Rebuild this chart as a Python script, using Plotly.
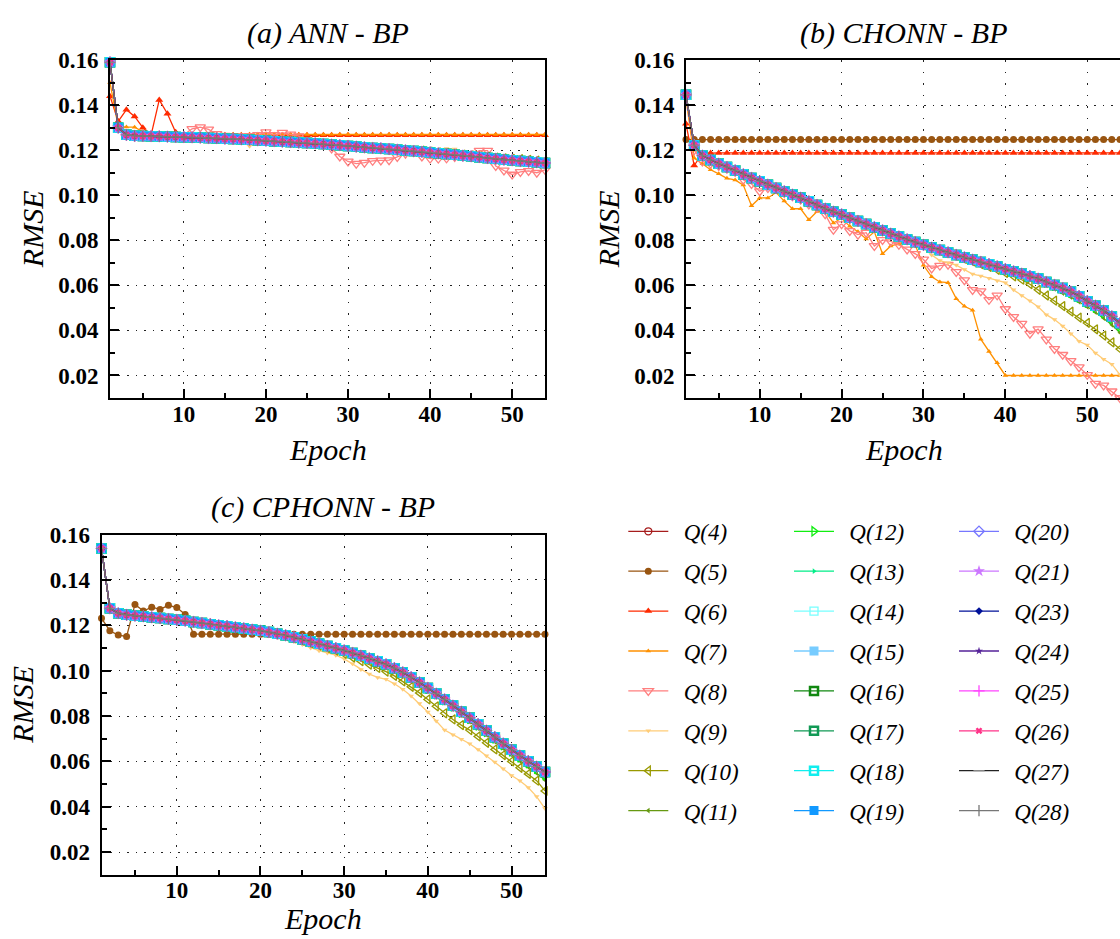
import plotly.graph_objects as go

W, H = 1120, 939
FONT = "Liberation Serif"

EPOCHS = list(range(1, 55))
SERIES = ["Q(4)", "Q(5)", "Q(6)", "Q(7)", "Q(8)", "Q(9)", "Q(10)", "Q(11)",
          "Q(12)", "Q(13)", "Q(14)", "Q(15)", "Q(16)", "Q(17)", "Q(18)", "Q(19)",
          "Q(20)", "Q(21)", "Q(23)", "Q(24)", "Q(25)", "Q(26)", "Q(27)", "Q(28)"]

# ---------------- (a) ANN - BP ----------------
A_MAIN = [0.1590, 0.1300, 0.1268, 0.1264, 0.1263, 0.1262, 0.1261, 0.1260, 0.1259, 0.1258,
          0.1257, 0.1256, 0.1254, 0.1253, 0.1251, 0.1250, 0.1248, 0.1246, 0.1244, 0.1242,
          0.1240, 0.1238, 0.1236, 0.1234, 0.1232, 0.1230, 0.1227, 0.1225, 0.1222, 0.1219,
          0.1216, 0.1213, 0.1210, 0.1208, 0.1205, 0.1202, 0.1199, 0.1196, 0.1193, 0.1190,
          0.1186, 0.1183, 0.1180, 0.1176, 0.1173, 0.1169, 0.1165, 0.1162, 0.1158, 0.1155,
          0.1152, 0.1149, 0.1146, 0.1143]
A_Q6 = [0.1440, 0.1328, 0.1380, 0.1350, 0.1300, 0.1266, 0.1423, 0.1362, 0.1280, 0.1266,
        0.1266, 0.1266, 0.1266, 0.1266, 0.1266, 0.1266, 0.1266, 0.1266, 0.1266, 0.1266,
        0.1266, 0.1266, 0.1266, 0.1266, 0.1266, 0.1266, 0.1266, 0.1266, 0.1266, 0.1266,
        0.1266, 0.1266, 0.1266, 0.1266, 0.1266, 0.1266, 0.1266, 0.1266, 0.1266, 0.1266,
        0.1266, 0.1266, 0.1266, 0.1266, 0.1266, 0.1266, 0.1266, 0.1266, 0.1266, 0.1266,
        0.1266, 0.1266, 0.1266, 0.1266]
A_Q7 = [0.1500, 0.1305, 0.1303, 0.1302, 0.1282, 0.1270, 0.1270, 0.1270, 0.1270, 0.1270,
        0.1270, 0.1270, 0.1270, 0.1270, 0.1270, 0.1270, 0.1270, 0.1270, 0.1270, 0.1270,
        0.1270, 0.1270, 0.1270, 0.1270, 0.1270, 0.1270, 0.1270, 0.1270, 0.1270, 0.1270,
        0.1270, 0.1270, 0.1270, 0.1270, 0.1270, 0.1270, 0.1270, 0.1270, 0.1270, 0.1270,
        0.1270, 0.1270, 0.1270, 0.1270, 0.1270, 0.1270, 0.1270, 0.1270, 0.1270, 0.1270,
        0.1270, 0.1270, 0.1270, 0.1270]
A_Q8 = [0.1590, 0.1300, 0.1265, 0.1260, 0.1262, 0.1262, 0.1261, 0.1260, 0.1262, 0.1268,
        0.1295, 0.1302, 0.1292, 0.1272, 0.1265, 0.1262, 0.1262, 0.1263, 0.1268, 0.1280,
        0.1268, 0.1278, 0.1270, 0.1262, 0.1245, 0.1238, 0.1232, 0.1208, 0.1172, 0.1150,
        0.1140, 0.1145, 0.1153, 0.1155, 0.1156, 0.1170, 0.1185, 0.1192, 0.1172, 0.1163,
        0.1163, 0.1164, 0.1170, 0.1172, 0.1178, 0.1198, 0.1198, 0.1130, 0.1110, 0.1092,
        0.1104, 0.1108, 0.1100, 0.1113]
A_Q9 = [0.1590, 0.1305, 0.1258, 0.1250, 0.1262, 0.1262, 0.1261, 0.1260, 0.1259, 0.1258,
        0.1257, 0.1245, 0.1254, 0.1253, 0.1251, 0.1250, 0.1246, 0.1218, 0.1236, 0.1242,
        0.1240, 0.1238, 0.1236, 0.1234, 0.1232, 0.1230, 0.1227, 0.1225, 0.1222, 0.1210,
        0.1200, 0.1195, 0.1202, 0.1208, 0.1205, 0.1202, 0.1199, 0.1196, 0.1193, 0.1190,
        0.1203, 0.1207, 0.1205, 0.1176, 0.1173, 0.1169, 0.1165, 0.1162, 0.1158, 0.1155,
        0.1148, 0.1140, 0.1145, 0.1143]
A_Q10 = [0.1590, 0.1300, 0.1268, 0.1264, 0.1263, 0.1262, 0.1261, 0.1260, 0.1259, 0.1258,
         0.1257, 0.1256, 0.1254, 0.1253, 0.1251, 0.1250, 0.1248, 0.1246, 0.1244, 0.1242,
         0.1240, 0.1238, 0.1236, 0.1234, 0.1232, 0.1230, 0.1227, 0.1225, 0.1222, 0.1219,
         0.1216, 0.1213, 0.1210, 0.1208, 0.1205, 0.1202, 0.1199, 0.1196, 0.1198, 0.1194,
         0.1190, 0.1187, 0.1184, 0.1180, 0.1177, 0.1173, 0.1170, 0.1167, 0.1164, 0.1161,
         0.1160, 0.1157, 0.1154, 0.1148]

# ---------------- (b) CHONN - BP ----------------
B_MAIN = [0.1446, 0.1222, 0.1176, 0.1157, 0.1140, 0.1125, 0.1110, 0.1093, 0.1077, 0.1062,
          0.1047, 0.1032, 0.1017, 0.1003, 0.0989, 0.0973, 0.0957, 0.0941, 0.0927, 0.0915,
          0.0900, 0.0886, 0.0872, 0.0858, 0.0844, 0.0830, 0.0817, 0.0804, 0.0792, 0.0780,
          0.0768, 0.0757, 0.0746, 0.0735, 0.0724, 0.0714, 0.0704, 0.0694, 0.0684, 0.0672,
          0.0662, 0.0652, 0.0641, 0.0630, 0.0615, 0.0602, 0.0588, 0.0572, 0.0552, 0.0530,
          0.0510, 0.0488, 0.0462, 0.0432]
B_Q5 = [0.1247, 0.1247, 0.1247, 0.1247, 0.1247, 0.1247, 0.1247, 0.1247, 0.1247, 0.1247,
        0.1247, 0.1247, 0.1247, 0.1247, 0.1247, 0.1247, 0.1247, 0.1247, 0.1247, 0.1247,
        0.1247, 0.1247, 0.1247, 0.1247, 0.1247, 0.1247, 0.1247, 0.1247, 0.1247, 0.1247,
        0.1247, 0.1247, 0.1247, 0.1247, 0.1247, 0.1247, 0.1247, 0.1247, 0.1247, 0.1247,
        0.1247, 0.1247, 0.1247, 0.1247, 0.1247, 0.1247, 0.1247, 0.1247, 0.1247, 0.1247,
        0.1247, 0.1247, 0.1247, 0.1247]
B_Q6 = [0.1317, 0.1132, 0.1186, 0.1188, 0.1188, 0.1188, 0.1188, 0.1188, 0.1188, 0.1188,
        0.1188, 0.1188, 0.1188, 0.1188, 0.1188, 0.1188, 0.1188, 0.1188, 0.1188, 0.1188,
        0.1188, 0.1188, 0.1188, 0.1188, 0.1188, 0.1188, 0.1188, 0.1188, 0.1188, 0.1188,
        0.1188, 0.1188, 0.1188, 0.1188, 0.1188, 0.1188, 0.1188, 0.1188, 0.1188, 0.1188,
        0.1188, 0.1188, 0.1188, 0.1188, 0.1188, 0.1188, 0.1188, 0.1188, 0.1188, 0.1188,
        0.1188, 0.1188, 0.1188, 0.1188]
B_Q7 = [0.1430, 0.1165, 0.1140, 0.1113, 0.1095, 0.1075, 0.1068, 0.1045, 0.0953, 0.0988,
        0.0988, 0.1012, 0.0974, 0.0940, 0.0940, 0.0891, 0.0928, 0.0928, 0.0877, 0.0898,
        0.0862, 0.0838, 0.0806, 0.0838, 0.0740, 0.0775, 0.0784, 0.0786, 0.0778, 0.0689,
        0.0638, 0.0615, 0.0612, 0.0541, 0.0507, 0.0490, 0.0361, 0.0306, 0.0256, 0.0200,
        0.0200, 0.0200, 0.0200, 0.0200, 0.0200, 0.0200, 0.0200, 0.0200, 0.0200, 0.0200,
        0.0200, 0.0200, 0.0200, 0.0200]
B_Q8 = [0.1440, 0.1200, 0.1150, 0.1140, 0.1130, 0.1118, 0.1105, 0.1069, 0.1050, 0.1018,
        0.1032, 0.1036, 0.1010, 0.0996, 0.0981, 0.0959, 0.0945, 0.0916, 0.0847, 0.0872,
        0.0842, 0.0825, 0.0834, 0.0775, 0.0802, 0.0795, 0.0780, 0.0760, 0.0740, 0.0715,
        0.0675, 0.0688, 0.0692, 0.0660, 0.0623, 0.0580, 0.0574, 0.0536, 0.0556, 0.0495,
        0.0460, 0.0430, 0.0386, 0.0406, 0.0360, 0.0318, 0.0292, 0.0265, 0.0237, 0.0203,
        0.0164, 0.0156, 0.0130, 0.0100]
B_Q9 = [0.1446, 0.1220, 0.1175, 0.1155, 0.1138, 0.1122, 0.1107, 0.1090, 0.1074, 0.1058,
        0.1042, 0.1027, 0.1012, 0.0997, 0.0980, 0.0962, 0.0947, 0.0930, 0.0912, 0.0898,
        0.0885, 0.0870, 0.0855, 0.0840, 0.0826, 0.0815, 0.0805, 0.0795, 0.0785, 0.0768,
        0.0735, 0.0710, 0.0700, 0.0690, 0.0670, 0.0650, 0.0642, 0.0632, 0.0620, 0.0612,
        0.0580, 0.0555, 0.0532, 0.0505, 0.0470, 0.0448, 0.0420, 0.0385, 0.0352, 0.0335,
        0.0300, 0.0272, 0.0250, 0.0203]
B_Q10 = [0.1446, 0.1222, 0.1176, 0.1157, 0.1140, 0.1125, 0.1110, 0.1093, 0.1077, 0.1062,
         0.1047, 0.1032, 0.1017, 0.1003, 0.0989, 0.0973, 0.0957, 0.0941, 0.0927, 0.0915,
         0.0900, 0.0886, 0.0872, 0.0858, 0.0844, 0.0830, 0.0817, 0.0804, 0.0790, 0.0777,
         0.0765, 0.0754, 0.0743, 0.0732, 0.0718, 0.0706, 0.0694, 0.0682, 0.0669, 0.0655,
         0.0640, 0.0625, 0.0605, 0.0580, 0.0555, 0.0532, 0.0508, 0.0483, 0.0457, 0.0433,
         0.0405, 0.0377, 0.0347, 0.0317]
B_Q11 = [0.1446, 0.1222, 0.1176, 0.1157, 0.1140, 0.1125, 0.1110, 0.1093, 0.1077, 0.1062,
         0.1047, 0.1032, 0.1017, 0.1003, 0.0989, 0.0973, 0.0957, 0.0941, 0.0927, 0.0915,
         0.0900, 0.0886, 0.0872, 0.0858, 0.0844, 0.0830, 0.0817, 0.0804, 0.0792, 0.0780,
         0.0768, 0.0757, 0.0746, 0.0735, 0.0724, 0.0714, 0.0704, 0.0694, 0.0680, 0.0667,
         0.0655, 0.0643, 0.0630, 0.0616, 0.0600, 0.0584, 0.0566, 0.0548, 0.0527, 0.0505,
         0.0481, 0.0455, 0.0425, 0.0390]
B_Q12 = [0.1446, 0.1222, 0.1176, 0.1157, 0.1140, 0.1125, 0.1110, 0.1093, 0.1077, 0.1062,
         0.1047, 0.1032, 0.1017, 0.1003, 0.0989, 0.0973, 0.0957, 0.0941, 0.0927, 0.0915,
         0.0900, 0.0886, 0.0872, 0.0858, 0.0844, 0.0830, 0.0817, 0.0804, 0.0792, 0.0780,
         0.0768, 0.0757, 0.0746, 0.0735, 0.0724, 0.0714, 0.0704, 0.0694, 0.0684, 0.0672,
         0.0662, 0.0652, 0.0641, 0.0630, 0.0612, 0.0598, 0.0583, 0.0566, 0.0545, 0.0522,
         0.0500, 0.0476, 0.0450, 0.0418]

# ---------------- (c) CPHONN - BP ----------------
C_MAIN = [0.1539, 0.1275, 0.1253, 0.1246, 0.1242, 0.1239, 0.1235, 0.1232, 0.1228, 0.1224,
          0.1220, 0.1215, 0.1210, 0.1205, 0.1200, 0.1196, 0.1191, 0.1186, 0.1181, 0.1176,
          0.1170, 0.1163, 0.1156, 0.1147, 0.1138, 0.1128, 0.1119, 0.1109, 0.1099, 0.1089,
          0.1078, 0.1066, 0.1054, 0.1041, 0.1028, 0.1011, 0.0992, 0.0971, 0.0948, 0.0924,
          0.0899, 0.0873, 0.0846, 0.0819, 0.0792, 0.0764, 0.0736, 0.0707, 0.0679, 0.0651,
          0.0626, 0.0601, 0.0577, 0.0553]
C_Q5 = [0.1231, 0.1176, 0.1157, 0.1151, 0.1292, 0.1263, 0.1280, 0.1270, 0.1288, 0.1278,
        0.1248, 0.1161, 0.1161, 0.1161, 0.1161, 0.1161, 0.1161, 0.1161, 0.1161, 0.1161,
        0.1161, 0.1161, 0.1161, 0.1161, 0.1161, 0.1161, 0.1161, 0.1161, 0.1161, 0.1161,
        0.1161, 0.1161, 0.1161, 0.1161, 0.1161, 0.1161, 0.1161, 0.1161, 0.1161, 0.1161,
        0.1161, 0.1161, 0.1161, 0.1161, 0.1161, 0.1161, 0.1161, 0.1161, 0.1161, 0.1161,
        0.1161, 0.1161, 0.1161, 0.1161]
C_Q9 = [0.1539, 0.1275, 0.1253, 0.1246, 0.1242, 0.1239, 0.1235, 0.1232, 0.1228, 0.1224,
        0.1220, 0.1215, 0.1210, 0.1205, 0.1200, 0.1196, 0.1191, 0.1186, 0.1181, 0.1176,
        0.1168, 0.1155, 0.1140, 0.1128, 0.1115, 0.1100, 0.1088, 0.1078, 0.1068, 0.1052,
        0.1030, 0.1005, 0.0985, 0.0970, 0.0962, 0.0942, 0.0918, 0.0888, 0.0855, 0.0818,
        0.0778, 0.0738, 0.0718, 0.0698, 0.0678, 0.0652, 0.0625, 0.0597, 0.0568, 0.0538,
        0.0515, 0.0485, 0.0445, 0.0392]
C_Q10 = [0.1539, 0.1275, 0.1253, 0.1246, 0.1242, 0.1239, 0.1235, 0.1232, 0.1228, 0.1224,
         0.1220, 0.1215, 0.1210, 0.1205, 0.1200, 0.1196, 0.1191, 0.1186, 0.1181, 0.1176,
         0.1169, 0.1160, 0.1152, 0.1142, 0.1132, 0.1121, 0.1110, 0.1099, 0.1088, 0.1074,
         0.1058, 0.1042, 0.1027, 0.1012, 0.0996, 0.0977, 0.0953, 0.0929, 0.0902, 0.0873,
         0.0843, 0.0812, 0.0785, 0.0760, 0.0738, 0.0710, 0.0682, 0.0653, 0.0628, 0.0600,
         0.0572, 0.0545, 0.0515, 0.0470]
C_Q11 = [0.1539, 0.1275, 0.1253, 0.1246, 0.1242, 0.1239, 0.1235, 0.1232, 0.1228, 0.1224,
         0.1220, 0.1215, 0.1210, 0.1205, 0.1200, 0.1196, 0.1191, 0.1186, 0.1181, 0.1176,
         0.1170, 0.1163, 0.1156, 0.1147, 0.1138, 0.1128, 0.1119, 0.1109, 0.1099, 0.1089,
         0.1076, 0.1063, 0.1050, 0.1036, 0.1022, 0.1004, 0.0984, 0.0962, 0.0938, 0.0912,
         0.0886, 0.0859, 0.0831, 0.0803, 0.0775, 0.0746, 0.0717, 0.0687, 0.0658, 0.0629,
         0.0602, 0.0575, 0.0548, 0.0518]
C_Q12 = [0.1539, 0.1275, 0.1253, 0.1246, 0.1242, 0.1239, 0.1235, 0.1232, 0.1228, 0.1224,
         0.1220, 0.1215, 0.1210, 0.1205, 0.1200, 0.1196, 0.1191, 0.1186, 0.1181, 0.1176,
         0.1170, 0.1163, 0.1156, 0.1147, 0.1138, 0.1128, 0.1119, 0.1109, 0.1099, 0.1089,
         0.1078, 0.1066, 0.1054, 0.1041, 0.1028, 0.1011, 0.0992, 0.0971, 0.0948, 0.0920,
         0.0895, 0.0869, 0.0842, 0.0814, 0.0786, 0.0758, 0.0729, 0.0700, 0.0671, 0.0643,
         0.0617, 0.0591, 0.0566, 0.0538]

# series -> (panel a, panel b, panel c)
DATA = {
    "Q(4)": (A_MAIN, B_MAIN, C_MAIN), "Q(5)": (A_MAIN, B_Q5, C_Q5),
    "Q(6)": (A_Q6, B_Q6, C_MAIN), "Q(7)": (A_Q7, B_Q7, C_MAIN),
    "Q(8)": (A_Q8, B_Q8, C_MAIN), "Q(9)": (A_Q9, B_Q9, C_Q9),
    "Q(10)": (A_Q10, B_Q10, C_Q10), "Q(11)": (A_MAIN, B_Q11, C_Q11),
    "Q(12)": (A_MAIN, B_Q12, C_Q12), "Q(13)": (A_MAIN, B_MAIN, C_MAIN),
    "Q(14)": (A_MAIN, B_MAIN, C_MAIN), "Q(15)": (A_MAIN, B_MAIN, C_MAIN),
    "Q(16)": (A_MAIN, B_MAIN, C_MAIN), "Q(17)": (A_MAIN, B_MAIN, C_MAIN),
    "Q(18)": (A_MAIN, B_MAIN, C_MAIN), "Q(19)": (A_MAIN, B_MAIN, C_MAIN),
    "Q(20)": (A_MAIN, B_MAIN, C_MAIN), "Q(21)": (A_MAIN, B_MAIN, C_MAIN),
    "Q(23)": (A_MAIN, B_MAIN, C_MAIN), "Q(24)": (A_MAIN, B_MAIN, C_MAIN),
    "Q(25)": (A_MAIN, B_MAIN, C_MAIN), "Q(26)": (A_MAIN, B_MAIN, C_MAIN),
    "Q(27)": (A_MAIN, B_MAIN, C_MAIN), "Q(28)": (A_MAIN, B_MAIN, C_MAIN),
}

# styles: line color, symbol, size, marker line width, marker color
STYLE = {
    "Q(4)": ("#A61C1C", "circle-open", 7, 1.3, "#A61C1C"),
    "Q(5)": ("#995511", "circle", 7, 0, "#995511"),
    "Q(6)": ("#FF2A00", "triangle-up", 7, 0, "#FF2A00"),
    "Q(7)": ("#FF9100", "triangle-up", 5, 0, "#FF9100"),
    "Q(8)": ("#FF7F7F", "triangle-down-open", 9, 1.3, "#FF7F7F"),
    "Q(9)": ("#FFCC77", "triangle-down", 5, 0, "#FFCC77"),
    "Q(10)": ("#999900", "triangle-left-open", 8, 1.3, "#999900"),
    "Q(11)": ("#669911", "triangle-left", 5, 0, "#669911"),
    "Q(12)": ("#11EE11", "triangle-right-open", 8, 1.3, "#11EE11"),
    "Q(13)": ("#00EE88", "triangle-right", 5, 0, "#00EE88"),
    "Q(14)": ("#77FFFF", "square-open", 8, 1.3, "#77FFFF"),
    "Q(15)": ("#77CCFF", "square", 9, 0, "#77CCFF"),
    "Q(16)": ("#118811", "square-open", 8, 2.5, "#118811"),
    "Q(17)": ("#119955", "square-open", 8, 2.5, "#119955"),
    "Q(18)": ("#11EEEE", "square-open", 8, 2.5, "#11EEEE"),
    "Q(19)": ("#1199FF", "square", 9, 0, "#1199FF"),
    "Q(20)": ("#7777FF", "diamond-open", 8, 1.3, "#7777FF"),
    "Q(21)": ("#CC77FF", "star", 9, 0, "#CC77FF"),
    "Q(23)": ("#001199", "diamond", 6, 0, "#001199"),
    "Q(24)": ("#552299", "star", 6, 0, "#552299"),
    "Q(25)": ("#FF44FF", "cross-thin", 8, 1.3, "#FF44FF"),
    "Q(26)": ("#FF3388", "x", 6, 0, "#FF3388"),
    "Q(27)": ("#222222", "line-ew", 8, 1.3, "#888888"),
    "Q(28)": ("#777777", "line-ns", 8, 1.3, "#777777"),
}

LEGEND_OF = {}
for i, s in enumerate(SERIES):
    LEGEND_OF[s] = ["legend", "legend2", "legend3"][i // 8]

fig = go.Figure()
AXES = [("x", "y"), ("x2", "y2"), ("x3", "y3")]
for s in SERIES:
    color, sym, size, mlw, mcol = STYLE[s]
    for p, (xa, ya) in enumerate(AXES):
        fig.add_trace(go.Scatter(
            x=EPOCHS, y=DATA[s][p], xaxis=xa, yaxis=ya,
            mode="lines+markers", name="\u00a0\u2009" + s,
            legendgroup=s, legend=LEGEND_OF[s], showlegend=(p == 0),
            line=dict(color=color, width=1.3),
            marker=dict(symbol=sym, size=size, color=mcol,
                        line=dict(color=mcol, width=mlw)),
            cliponaxis=False,
        ))

TICK_FONT = dict(family=FONT, size=23, color="black", weight=700)


def xaxis_common(domain, anchor):
    return dict(domain=domain, anchor=anchor, range=[1, 54], tick0=0, dtick=10,
                ticks="inside", ticklen=9, tickwidth=1.5, tickcolor="black",
                showline=True, linewidth=2, linecolor="black", mirror=True,
                showgrid=True, gridcolor="#222222", gridwidth=1.2, griddash="1.5px,10px",
                zeroline=False, ticklabelstandoff=-6,
                tickfont=TICK_FONT,
                minor=dict(dtick=5, tick0=0, ticks="inside", ticklen=5, tickwidth=1.5,
                           tickcolor="black", showgrid=False))


def yaxis_common(domain, anchor, mirror=True):
    return dict(domain=domain, anchor=anchor, range=[0.01, 0.16], tick0=0, dtick=0.02,
                tickformat=".2f",
                ticks="inside", ticklen=9, tickwidth=1.5, tickcolor="black",
                showline=True, linewidth=2, linecolor="black", mirror=mirror,
                showgrid=True, gridcolor="#222222", gridwidth=1.2, griddash="1.5px,7px",
                zeroline=False, ticklabelstandoff=5,
                tickfont=TICK_FONT,
                minor=dict(dtick=0.01, tick0=0, ticks="inside", ticklen=5, tickwidth=1.5,
                           tickcolor="black", showgrid=False))


XA = [110 / W, 545 / W]
XB = [686 / W, 1.0]
XC = [101.5 / W, 545 / W]
YAB = [1 - 391 / H, 1 - 48.7 / H]
YC = [1 - 874 / H, 1 - 529.3 / H]

legend_common = dict(font=dict(family=FONT, size=23, color="black", style="italic"),
                     bgcolor="rgba(0,0,0,0)", borderwidth=0, itemwidth=40,
                     tracegroupgap=7, xanchor="left", yanchor="top",
                     orientation="v", traceorder="grouped")
LEG_TOP = 1 - 504.3 / H

fig.update_layout(
    width=W, height=H, margin=dict(l=0, r=0, t=0, b=0),
    paper_bgcolor="white", plot_bgcolor="white",
    xaxis=xaxis_common(XA, "y"), yaxis=yaxis_common(YAB, "x"),
    xaxis2=xaxis_common(XB, "y2"), yaxis2=yaxis_common(YAB, "x2", mirror=False),
    xaxis3=xaxis_common(XC, "y3"), yaxis3=yaxis_common(YC, "x3"),
    legend=dict(x=623.3 / W, y=LEG_TOP, **legend_common),
    legend2=dict(x=789 / W, y=LEG_TOP, **legend_common),
    legend3=dict(x=954 / W, y=LEG_TOP, **legend_common),
)

TITLE_FONT = dict(family=FONT, size=30, color="black", style="italic")
annots = [
    ("(a) ANN - BP", 327.5, 21.7, 0), ("(b) CHONN - BP", 903.5, 21.7, 0),
    ("(c) CPHONN - BP", 323, 501.7, 0),
    ("RMSE", 32, 220, -90), ("RMSE", 608, 220, -90), ("RMSE", 23, 701.6, -90),
    ("Epoch", 327.5, 443, 0), ("Epoch", 903.5, 443, 0), ("Epoch", 323, 918, 0),
]
for text, px, py, ang in annots:
    fig.add_annotation(text=text, xref="paper", yref="paper", x=px / W, y=1 - py / H,
                       xanchor="center", yanchor="middle", showarrow=False,
                       textangle=ang, font=TITLE_FONT)

fig.write_html("out.html")
